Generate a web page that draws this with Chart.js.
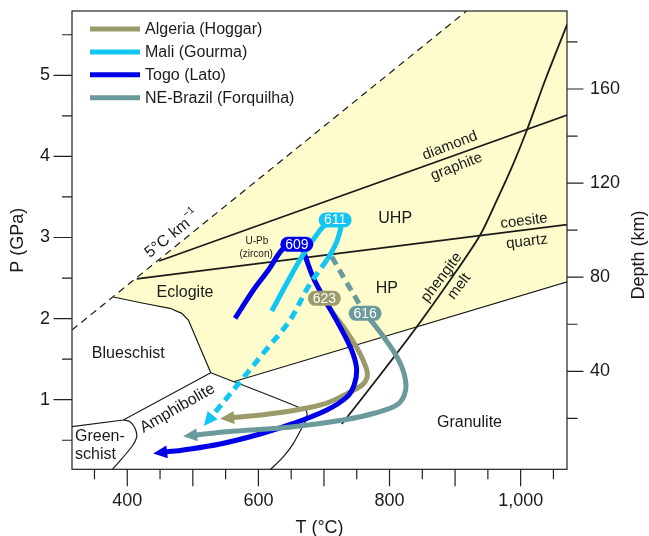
<!DOCTYPE html>
<html lang="en">
<head>
<meta charset="UTF-8">
<title>P-T paths - Pan-African UHP/HP belts</title>
<script src="https://cdn.jsdelivr.net/npm/chart.js@4.4.1/dist/chart.umd.min.js"></script>
<style>
  html, body { margin: 0; padding: 0; background: #fff; }
  .wrap { width: 649px; height: 536px; position: relative; }
</style>
</head>
<body>
<div class="wrap"><canvas id="ptChart"></canvas></div>
<script>
// axis ticks
const tempTicks = [350, 400, 450, 500, 550, 600, 650, 700, 750, 800, 850, 900, 950, 1000, 1050];
const tempLabels = [400, 600, 800, 1000];
const pressTicks = [0.5, 1, 1.5, 2, 2.5, 3, 3.5, 4, 4.5, 5, 5.5];
const pressLabels = [1, 2, 3, 4, 5];
const depthTicks = [20, 40, 60, 80, 100, 120, 140, 160, 180];
const depthLabels = [40, 80, 120, 160];

// field boundaries, [T (°C), P (GPa)]
const geotherm5 = [[315.7, 1.86], [917, 5.79]];
const diamondGraphite = [[448.5, 2.71], [1071, 4.51]];
const coesiteQuartz = [[414.4, 2.49], [1071, 3.16]];
const hpLower = [[563.4, 1.224], [1071, 2.455]];
const eclogiteField = [[378.7, 2.266], [424.5, 2.189], [465.3, 2.127], [483.1, 2.065], [493.2, 1.983],
  [527.4, 1.333], [563.4, 1.224], [1071, 2.455], [1071, 5.9], [933, 5.9], [378.7, 2.266]];
const blueschistTop = [[378.7, 2.266], [424.5, 2.189], [465.3, 2.127], [483.1, 2.065], [493.2, 1.983], [527.4, 1.333]];
const amphGranulite = [[527.4, 1.333], [671.3, 0.873], [674.3, 0.824], [672, 0.737], [666.2, 0.651],
  [653.4, 0.462], [638.2, 0.297], [622.9, 0.174], [614.8, 0.121]];
const amphiboliteTop = [[527.4, 1.333], [394, 0.75], [315, 0.667]];
const greenschistEdge = [[394, 0.75], [404.2, 0.729], [411.8, 0.647], [414.4, 0.544], [406.8, 0.42], [378.7, 0.154], [375.2, 0.121]];
const phengiteMelt = [[727.3, 0.7], [785.7, 1.305], [841.7, 1.9], [892.5, 2.476], [938.3, 3.031], [963.8, 3.462],
  [989.1, 3.915], [1009.6, 4.325], [1037.5, 4.942], [1071.1, 5.632]];

// P-T paths
const algeriaRetro = [[700.6, 2.25], [704.8, 2.168], [729.7, 1.896], [752.1, 1.613], [764.4, 1.391], [765.9, 1.28],
  [758.2, 1.181], [736.9, 1.083], [704.4, 0.959], [653.4, 0.867], [602.6, 0.811], [561.4, 0.78]];
const maliPrograde = [[620.4, 2.094], [643.3, 2.435], [666.2, 2.763], [694.2, 3.092], [706.4, 3.191]];
const maliPeak = [[726.2, 3.129], [719.6, 2.948], [712, 2.825], [704.4, 2.722]];
const maliRetro = [[704.4, 2.722], [675.8, 2.39], [648.4, 1.983], [610.2, 1.6], [572.1, 1.222], [529.3, 0.799]];
const togoPrograde = [[564.4, 2.004], [592.4, 2.353], [615.3, 2.599], [635.7, 2.846], [651.4, 2.932]];
const togoRetro = [[668.2, 2.846], [683.9, 2.5], [704.4, 2.192], [729.7, 1.822], [744.5, 1.563], [749.9, 1.366],
  [746, 1.181], [734.9, 1.033], [704.4, 0.873], [653.4, 0.707], [602.6, 0.577], [541.6, 0.454], [485.6, 0.38], [459.2, 0.355]];
const brazilDecomp = [[712, 2.763], [732.3, 2.476], [752.1, 2.205], [762.8, 2.065]];
const brazilRetro = [[762.8, 2.065], [773.5, 1.958], [790.8, 1.777], [811.2, 1.53], [822.3, 1.317], [824.6, 1.12],
  [813.2, 0.947], [778.1, 0.836], [729.7, 0.75], [653.4, 0.667], [551.8, 0.605], [504.9, 0.565]];

// ages (Ma) on the paths
const ageText = ['611', '609', '623', '616'];
const ageT = [717, 658.6, 700.6, 762.8];
const ageP = [3.216, 2.917, 2.25, 2.065];

const regions = ['Algeria (Hoggar)', 'Mali (Gourma)', 'Togo (Lato)', 'NE-Brazil (Forquilha)'];
const OLIVE = '#9b9a6b', CYAN = '#12c6f3', BLUE = '#0000e8', TEAL = '#6a9a9b';
const regionColors = [OLIVE, CYAN, BLUE, TEAL];
const ageColors = [CYAN, BLUE, OLIVE, TEAL];

const FONT = '"Liberation Sans", Arial, Helvetica, sans-serif';
const INK = '#1a1a1a';

const pts = a => a.map(([x, y]) => ({ x, y }));

function boundary(data, width, extra) {
  return Object.assign({ data: pts(data), borderColor: INK, borderWidth: width, showLine: true,
    pointRadius: 0, fill: false, tension: 0, order: 50 }, extra || {});
}
function path(data, color, extra) {
  return Object.assign({ data: pts(data), borderColor: color, borderWidth: 5, showLine: true,
    pointRadius: 0, fill: false, tension: 0.35, borderCapStyle: 'butt' }, extra || {});
}

const datasets = [
  { data: pts(eclogiteField), showLine: true, fill: 'shape', backgroundColor: '#fefccc',
    borderWidth: 0, pointRadius: 0, order: 100 },
  boundary(geotherm5, 1.2, { borderDash: [7, 5] }),
  boundary(blueschistTop, 1.2),
  boundary(amphGranulite, 1.2, { tension: 0.3 }),
  boundary(amphiboliteTop, 1.2),
  boundary(greenschistEdge, 1.2, { tension: 0.35 }),
  boundary(hpLower, 1.2),
  boundary(diamondGraphite, 1.8),
  boundary(coesiteQuartz, 1.8),
  boundary(phengiteMelt, 1.8, { tension: 0.3 }),
  path(algeriaRetro, OLIVE, { order: 25, arrow: true }),
  path(togoPrograde, BLUE, { order: 20 }),
  path(togoRetro, BLUE, { order: 20, arrow: true }),
  path(brazilDecomp, TEAL, { order: 15, borderDash: [9, 6] }),
  path(brazilRetro, TEAL, { order: 15, arrow: true }),
  path(maliPrograde, CYAN, { order: 10 }),
  path(maliPeak, CYAN, { order: 10 }),
  path(maliRetro, CYAN, { order: 10, borderDash: [9, 6], arrow: true })
];

// text inside the diagram
const fieldLabels = [
  { text: 'UHP', T: 808.6, P: 3.237, size: 16 },
  { text: 'HP', T: 795.9, P: 2.374, size: 16 },
  { text: 'Eclogite', T: 488.1, P: 2.319, size: 16 },
  { text: 'Blueschist', T: 401.6, P: 1.572, size: 16 },
  { text: 'Amphibolite', T: 476.7, P: 0.894, size: 16, rot: -30 },
  { text: 'Green-', T: 320.3, P: 0.544, size: 16, align: 'left' },
  { text: 'schist', T: 320.3, P: 0.318, size: 16, align: 'left' },
  { text: 'Granulite', T: 922, P: 0.716, size: 16 },
  { text: 'diamond', T: 892.1, P: 4.131, size: 15, rot: -21 },
  { text: 'graphite', T: 902.1, P: 3.873, size: 15, rot: -21 },
  { text: 'coesite', T: 1005.2, P: 3.203, size: 15, rot: -7 },
  { text: 'quartz', T: 1009.6, P: 2.948, size: 15, rot: -7 },
  { text: 'phengite', T: 879.4, P: 2.508, size: 15, rot: -53 },
  { text: 'melt', T: 906.3, P: 2.396, size: 15, rot: -53 },
  { text: 'U-Pb', T: 597.6, P: 2.948, size: 10 },
  { text: '(zircon)', T: 596.5, P: 2.796, size: 10 }
];

const decor = {
  id: 'decor',
  afterDatasetsDraw(chart) {
    const { ctx, scales: { x, y } } = chart;
    // arrow heads at path ends
    chart.data.datasets.forEach((ds, i) => {
      if (!ds.arrow) return;
      const el = chart.getDatasetMeta(i).data;
      const p1 = el[el.length - 2], p2 = el[el.length - 1];
      const ang = Math.atan2(p2.y - p1.y, p2.x - p1.x);
      ctx.save();
      ctx.translate(p2.x, p2.y);
      ctx.rotate(ang);
      ctx.beginPath();
      ctx.moveTo(13, 0);
      ctx.lineTo(-1, -6.5);
      ctx.lineTo(-1, 6.5);
      ctx.closePath();
      ctx.fillStyle = ds.borderColor;
      ctx.fill();
      ctx.restore();
    });

    // age pills
    ctx.save();
    ctx.font = '14px ' + FONT;
    ctx.textAlign = 'center';
    ctx.textBaseline = 'middle';
    ageText.forEach((t, i) => {
      const px = x.getPixelForValue(ageT[i]), py = y.getPixelForValue(ageP[i]);
      ctx.beginPath();
      ctx.roundRect(px - 16.5, py - 7.5, 33, 15, 7.5);
      ctx.fillStyle = ageColors[i];
      ctx.fill();
      ctx.fillStyle = '#fff';
      ctx.fillText(t, px, py + 0.5);
    });
    ctx.restore();

    // field names
    fieldLabels.forEach(l => {
      ctx.save();
      ctx.translate(x.getPixelForValue(l.T), y.getPixelForValue(l.P));
      ctx.rotate((l.rot || 0) * Math.PI / 180);
      ctx.font = l.size + 'px ' + FONT;
      ctx.fillStyle = INK;
      ctx.textAlign = l.align || 'center';
      ctx.textBaseline = 'middle';
      ctx.fillText(l.text, 0, 0);
      ctx.restore();
    });

    // geotherm label with superscript
    ctx.save();
    ctx.translate(x.getPixelForValue(461.4), y.getPixelForValue(2.99));
    ctx.rotate(-39 * Math.PI / 180);
    ctx.fillStyle = INK;
    ctx.textBaseline = 'middle';
    ctx.font = '16px ' + FONT;
    const main = '5°C km';
    const w = ctx.measureText(main).width;
    ctx.textAlign = 'left';
    ctx.fillText(main, -w / 2, 0);
    ctx.font = '10px ' + FONT;
    ctx.fillText('\u22121', w / 2 + 1, -7);
    ctx.restore();
  },
  afterDraw(chart) {
    const { ctx, chartArea: a, scales: { x, y, y2 } } = chart;
    ctx.save();
    ctx.strokeStyle = '#222';
    ctx.lineWidth = 1.2;
    ctx.strokeRect(a.left, a.top, a.right - a.left, a.bottom - a.top);
    ctx.beginPath();
    tempTicks.forEach(v => {
      const px = x.getPixelForValue(v), len = v % 100 === 0 ? 17 : 10;
      ctx.moveTo(px, a.bottom); ctx.lineTo(px, a.bottom + len);
    });
    pressTicks.forEach(v => {
      const py = y.getPixelForValue(v), len = Number.isInteger(v) ? 18.5 : 10;
      ctx.moveTo(a.left, py); ctx.lineTo(a.left - len, py);
    });
    depthTicks.forEach(v => {
      const py = y2.getPixelForValue(v), len = v % 40 === 0 ? 16.5 : 10.5;
      ctx.moveTo(a.right, py); ctx.lineTo(a.right + len, py);
    });
    ctx.stroke();

    // right axis title, reading upwards
    ctx.fillStyle = INK;
    ctx.font = '18px ' + FONT;
    ctx.textAlign = 'center';
    ctx.textBaseline = 'middle';
    ctx.translate(639, 255);
    ctx.rotate(-Math.PI / 2);
    ctx.fillText('Depth (km)', 0, 0);
    ctx.restore();

    // legend
    ctx.save();
    ctx.font = '16px ' + FONT;
    ctx.textBaseline = 'middle';
    ctx.fillStyle = INK;
    regions.forEach((r, i) => {
      const ly = a.top + 18 + i * 22.9;
      ctx.strokeStyle = regionColors[i];
      ctx.lineWidth = 5;
      ctx.beginPath();
      ctx.moveTo(a.left + 18, ly);
      ctx.lineTo(a.left + 68, ly);
      ctx.stroke();
      ctx.fillText(r, a.left + 73, ly + 0.5);
    });
    ctx.restore();
  }
};

const tickFont = { family: FONT, size: 18 };
const noGrid = { display: false, drawTicks: false };
const fixY = w => s => { s.width = w; s.paddingTop = 0; s.paddingBottom = 0; };

new Chart(document.getElementById('ptChart'), {
  type: 'scatter',
  data: { datasets },
  options: {
    responsive: true,
    maintainAspectRatio: false,
    animation: false,
    events: [],
    layout: { padding: { top: 11, left: 0, right: 0, bottom: 0 } },
    plugins: { legend: { display: false }, tooltip: { enabled: false } },
    scales: {
      x: {
        type: 'linear', position: 'bottom', min: 315.7, max: 1070.7,
        grid: noGrid, border: { display: false },
        afterBuildTicks: s => { s.ticks = tempTicks.map(v => ({ value: v })); },
        afterFit: s => { s.height = 66.7; s.paddingLeft = 0; s.paddingRight = 0; },
        ticks: { autoSkip: false, maxRotation: 0, padding: 21, color: INK, font: tickFont,
          callback: v => tempLabels.includes(v) ? v.toLocaleString('en-US') : '' },
        title: { display: true, text: 'T (°C)', color: INK, font: { family: FONT, size: 18, lineHeight: 0.9 },
          padding: { top: 0, bottom: 0 } }
      },
      y: {
        type: 'linear', position: 'left', min: 0.1418, max: 5.793,
        grid: noGrid, border: { display: false },
        afterBuildTicks: s => { s.ticks = pressTicks.map(v => ({ value: v })); },
        afterFit: fixY(72),
        ticks: { autoSkip: false, padding: 22, color: INK, font: tickFont,
          callback: v => pressLabels.includes(v) ? String(v) : '' },
        title: { display: true, text: 'P (GPa)', color: INK, font: { family: FONT, size: 18 },
          padding: { top: 7, bottom: 0 } }
      },
      y2: {
        type: 'linear', position: 'right', min: -1.66, max: 193.16,
        grid: noGrid, border: { display: false },
        afterBuildTicks: s => { s.ticks = depthTicks.map(v => ({ value: v })); },
        afterFit: fixY(82),
        ticks: { autoSkip: false, padding: 23, color: INK, font: tickFont,
          callback: v => depthLabels.includes(v) ? String(v) : '' }
      }
    }
  },
  plugins: [decor]
});
</script>
</body>
</html>
